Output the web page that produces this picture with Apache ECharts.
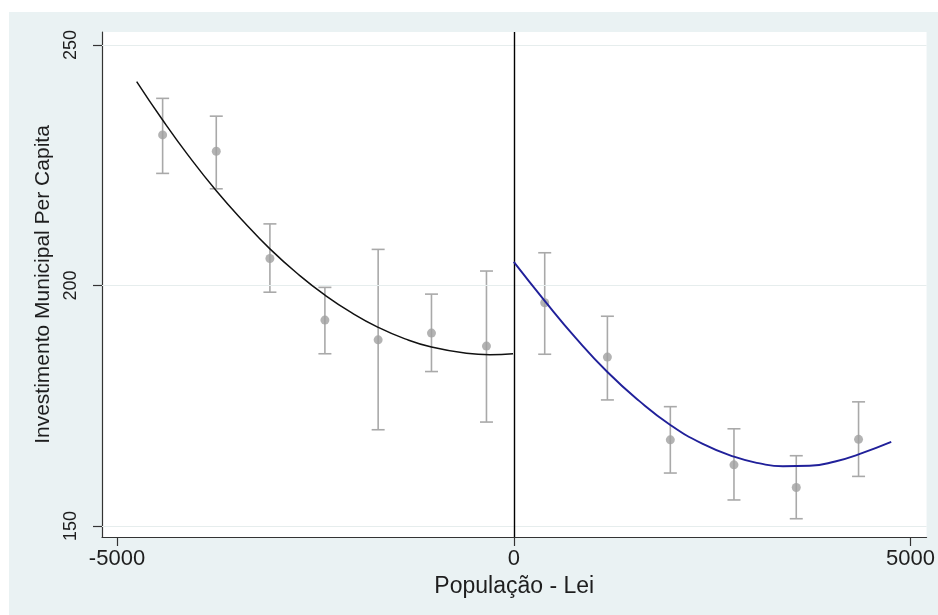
<!DOCTYPE html>
<html>
<head>
<meta charset="utf-8">
<script src="https://cdn.jsdelivr.net/npm/echarts@6/dist/echarts.min.js"></script>
<style>
  html, body { margin: 0; padding: 0; background: #ffffff; }
  #bg { position: absolute; left: 9px; top: 12px; width: 929px; height: 603px; background: #eaf2f3; }
  #chart { position: absolute; left: 0; top: 0; width: 938px; height: 615px; }
</style>
</head>
<body>
<div id="bg"></div>
<div id="chart"></div>
<script>
// Tick labels
const xTicks = [-5000, 0, 5000];
const yTicks = [150, 200, 250];

// Binned means with confidence intervals (left of cutoff)
const leftX    = [-4425, -3749, -3073, -2380, -1709, -1037, -344];
const leftMean = [231.3, 227.9, 205.6, 192.8, 188.7, 190.1, 187.4];
const leftLo   = [223.3, 220.1, 198.6, 185.8, 170.0, 182.1, 171.6];
const leftHi   = [238.9, 235.2, 212.8, 199.6, 207.5, 198.2, 203.0];

// Binned means with confidence intervals (right of cutoff)
const rightX    = [390, 1180, 1973, 2775, 3560, 4345];
const rightMean = [196.4, 185.1, 167.9, 162.7, 158.0, 168.0];
const rightLo   = [185.7, 176.2, 161.0, 155.4, 151.5, 160.3];
const rightHi   = [206.8, 193.6, 174.8, 170.2, 164.6, 175.8];

// Fitted curves
const leftFitX  = [-4752, -4425, -4100, -3749, -3400, -3073, -2700, -2380, -2050, -1709, -1370, -1037, -596, -300, -9];
const leftFitY  = [242.4, 234.4, 227.0, 219.7, 213.2, 207.6, 202.1, 198.0, 194.4, 191.3, 188.9, 187.2, 185.9, 185.6, 185.8];
const rightFitX = [0, 390, 780, 1180, 1580, 1973, 2375, 2775, 3100, 3392, 3728, 4050, 4345, 4757];
const rightFitY = [204.9, 196.8, 189.1, 182.0, 176.0, 171.0, 167.1, 164.4, 163.0, 162.4, 162.5, 163.4, 164.9, 167.5];

const zip2 = (a, b) => a.map((v, i) => [v, b[i]]);
const zip3 = (a, b, c) => a.map((v, i) => [v, b[i], c[i]]);

const textColor = '#1e1e1e';
const fontFamily = 'Liberation Sans, Arial, sans-serif';
const ciColor = '#a9a9a9';
const dotColor = '#a0a0a0';

function renderErr(params, api) {
  const x = api.value(0), lo = api.value(1), hi = api.value(2);
  const pTop = api.coord([x, hi]);
  const pBot = api.coord([x, lo]);
  const w = 6.5;
  const style = { stroke: ciColor, lineWidth: 1.6, fill: null };
  return {
    type: 'group',
    children: [
      { type: 'line', shape: { x1: pTop[0], y1: pTop[1], x2: pBot[0], y2: pBot[1] }, style: style },
      { type: 'line', shape: { x1: pTop[0] - w, y1: pTop[1], x2: pTop[0] + w, y2: pTop[1] }, style: style },
      { type: 'line', shape: { x1: pBot[0] - w, y1: pBot[1], x2: pBot[0] + w, y2: pBot[1] }, style: style }
    ]
  };
}

const chart = echarts.init(document.getElementById('chart'), null, { renderer: 'canvas' });
chart.setOption({
  backgroundColor: 'transparent',
  animation: false,
  textStyle: { fontFamily: fontFamily },
  grid: {
    left: 102, right: 11, top: 32, bottom: 78,
    show: true, backgroundColor: '#ffffff', borderWidth: 0
  },
  xAxis: {
    type: 'value',
    min: -5189, max: 5202,
    name: 'População - Lei',
    nameLocation: 'middle',
    nameGap: 32,
    nameTextStyle: { fontSize: 23, color: textColor, fontFamily: fontFamily },
    axisLine: { show: true, onZero: false, lineStyle: { color: '#333', width: 1.2 } },
    axisTick: { show: true, length: 9, customValues: xTicks, lineStyle: { color: '#333', width: 1.2 } },
    axisLabel: { customValues: xTicks, formatter: v => String(v), fontSize: 22, color: textColor, margin: 11, fontFamily: fontFamily },
    splitLine: { show: false }
  },
  yAxis: {
    type: 'value',
    min: 147.7, max: 252.7,
    name: 'Investimento Municipal Per Capita',
    nameLocation: 'middle',
    nameRotate: 90,
    nameGap: 43,
    nameTextStyle: { fontSize: 21, color: textColor, fontFamily: fontFamily },
    axisLine: { show: true, onZero: false, lineStyle: { color: '#333', width: 1.2 } },
    axisTick: { show: true, length: 9, customValues: yTicks, lineStyle: { color: '#333', width: 1.2 } },
    axisLabel: { customValues: yTicks, formatter: v => String(v), rotate: 90, fontSize: 18, color: textColor, margin: 22, fontFamily: fontFamily },
    splitLine: { show: false }
  },
  series: [
    {
      type: 'line', data: [], silent: true,
      markLine: {
        silent: true, symbol: 'none', animation: false,
        label: { show: false },
        lineStyle: { color: '#e6eded', width: 1.2, type: 'solid' },
        data: yTicks.map(v => ({ yAxis: v }))
      },
      z: 1
    },
    {
      type: 'custom', renderItem: renderErr, silent: true,
      encode: { x: 0, y: [1, 2] },
      data: zip3(leftX, leftLo, leftHi), z: 3
    },
    {
      type: 'custom', renderItem: renderErr, silent: true,
      encode: { x: 0, y: [1, 2] },
      data: zip3(rightX, rightLo, rightHi), z: 3
    },
    {
      type: 'scatter', symbol: 'circle', symbolSize: 9, silent: true,
      itemStyle: { color: dotColor },
      data: zip2(leftX, leftMean).concat(zip2(rightX, rightMean)), z: 4
    },
    {
      type: 'line', smooth: 0.5, showSymbol: false, silent: true,
      lineStyle: { color: '#111111', width: 1.5 },
      data: zip2(leftFitX, leftFitY), z: 5,
      markLine: {
        silent: true, symbol: 'none', animation: false,
        label: { show: false },
        lineStyle: { color: '#000000', width: 1.4, type: 'solid' },
        data: [{ xAxis: 0 }]
      }
    },
    {
      type: 'line', smooth: 0.5, showSymbol: false, silent: true,
      lineStyle: { color: '#20209a', width: 1.9 },
      data: zip2(rightFitX, rightFitY), z: 5
    }
  ]
});
</script>
</body>
</html>
